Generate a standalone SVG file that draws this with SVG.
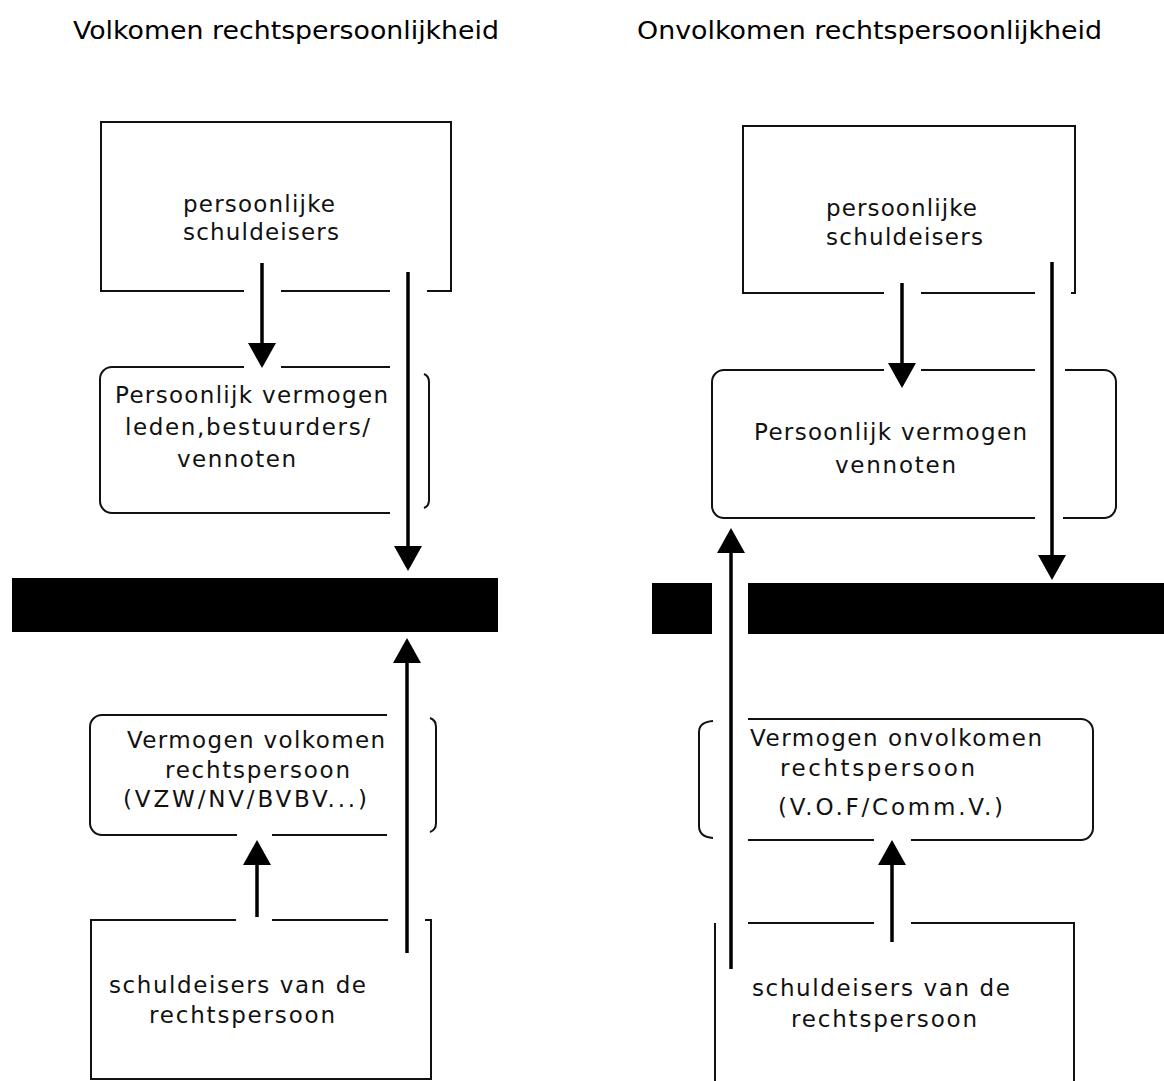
<svg xmlns="http://www.w3.org/2000/svg" width="1164" height="1081" viewBox="0 0 1164 1081">
<style>
.bg{fill:#ffffff}
.box{fill:none;stroke:#111;stroke-width:2}
.bar{fill:#000}
.arr{stroke:#000;stroke-width:3.5;fill:none}
.t{font-family:"DejaVu Sans","Liberation Sans",sans-serif;font-size:23px;fill:#111}
.title{font-family:"DejaVu Sans","Liberation Sans",sans-serif;font-size:25px;fill:#000}
</style>
<defs>
<marker id="ah" viewBox="0 0 25 28" markerWidth="25" markerHeight="28" refX="15" refY="14" orient="auto" markerUnits="userSpaceOnUse">
<path d="M0,0 L25,14 L0,28 z" fill="#000"/>
</marker>
</defs>
<rect class="bg" x="0" y="0" width="1164" height="1081"/>

<g id="titles">
<text class="title" x="73" y="39" textLength="426" lengthAdjust="spacingAndGlyphs">Volkomen rechtspersoonlijkheid</text>
<text class="title" x="637" y="39" textLength="465" lengthAdjust="spacingAndGlyphs">Onvolkomen rechtspersoonlijkheid</text>
</g>

<!-- Left column -->
<g id="L_persoonlijke_schuldeisers">
<path class="box" d="M244,291 H101 V122 H451 V291 H427 M281,291 H390"/>
<text class="t" x="183" y="212" textLength="152" lengthAdjust="spacing">persoonlijke</text>
<text class="t" x="183" y="240" textLength="156" lengthAdjust="spacing">schuldeisers</text>
</g>

<g id="L_persoonlijk_vermogen">
<path class="box" d="M244,367 H112 A12,12 0 0 0 100,379 V501 A12,12 0 0 0 112,513 H390 M281,367 H390 M424,374 Q429,376 429,382 V500 Q429,506 424,508"/>
<text class="t" x="115" y="403" textLength="273" lengthAdjust="spacing">Persoonlijk vermogen</text>
<text class="t" x="125" y="435" textLength="245" lengthAdjust="spacing">leden,bestuurders/</text>
<text class="t" x="177" y="467" textLength="119" lengthAdjust="spacing">vennoten</text>
</g>

<g id="L_bar">
<rect class="bar" x="12" y="578" width="486" height="54"/>
</g>

<g id="L_vermogen_volkomen">
<path class="box" d="M387,715 H102 A12,12 0 0 0 90,727 V823 A12,12 0 0 0 102,835 H237 M272,835 H387 M430,718 Q436,720 436,727 V823 Q436,830 430,832"/>
<text class="t" x="127" y="748" textLength="258" lengthAdjust="spacing">Vermogen volkomen</text>
<text class="t" x="165" y="778" textLength="185" lengthAdjust="spacing">rechtspersoon</text>
<text class="t" x="123" y="807" textLength="244" lengthAdjust="spacing">(VZW/NV/BVBV...)</text>
</g>

<g id="L_schuldeisers_rp">
<path class="box" d="M236,920 H91 V1079 H431 V920 H425 M272,920 H388"/>
<text class="t" x="109" y="993" textLength="257" lengthAdjust="spacing">schuldeisers van de</text>
<text class="t" x="149" y="1023" textLength="186" lengthAdjust="spacing">rechtspersoon</text>
</g>

<!-- Right column -->
<g id="R_persoonlijke_schuldeisers">
<path class="box" d="M884,293 H743 V126 H1075 V293 H1071 M921,293 H1035"/>
<text class="t" x="826" y="216" textLength="151" lengthAdjust="spacing">persoonlijke</text>
<text class="t" x="826" y="245" textLength="157" lengthAdjust="spacing">schuldeisers</text>
</g>

<g id="R_persoonlijk_vermogen">
<path class="box" d="M884,370 H724 A12,12 0 0 0 712,382 V506 A12,12 0 0 0 724,518 H1035 M921,370 H1035 M1065,370 H1104 A12,12 0 0 1 1116,382 V506 A12,12 0 0 1 1104,518 H1063"/>
<text class="t" x="754" y="440" textLength="273" lengthAdjust="spacing">Persoonlijk vermogen</text>
<text class="t" x="835" y="473" textLength="121" lengthAdjust="spacing">vennoten</text>
</g>

<g id="R_bar">
<rect class="bar" x="652" y="583" width="60" height="51"/>
<rect class="bar" x="748" y="583" width="416" height="51"/>
</g>

<g id="R_vermogen_onvolkomen">
<path class="box" d="M713,721 Q699,722 699,732 V826 Q699,837 713,838 M748,719 H1081 A12,12 0 0 1 1093,731 V828 A12,12 0 0 1 1081,840 H911 M874,840 H748"/>
<text class="t" x="750" y="746" textLength="292" lengthAdjust="spacing">Vermogen onvolkomen</text>
<text class="t" x="780" y="776" textLength="195" lengthAdjust="spacing">rechtspersoon</text>
<text class="t" x="778" y="815" textLength="225" lengthAdjust="spacing">(V.O.F/Comm.V.)</text>
</g>

<g id="R_schuldeisers_rp">
<path class="box" d="M715,923 V1081 M748,923 H874 M911,923 H1074 V1081"/>
<text class="t" x="752" y="996" textLength="258" lengthAdjust="spacing">schuldeisers van de</text>
<text class="t" x="791" y="1027" textLength="186" lengthAdjust="spacing">rechtspersoon</text>
</g>

<g id="connectors">
<line class="arr" x1="262" y1="263" x2="262" y2="358" marker-end="url(#ah)"/>
<line class="arr" x1="408" y1="272" x2="408" y2="561" marker-end="url(#ah)"/>
<line class="arr" x1="407" y1="953" x2="407" y2="648" marker-end="url(#ah)"/>
<line class="arr" x1="257" y1="917" x2="257" y2="850" marker-end="url(#ah)"/>
<line class="arr" x1="902" y1="283" x2="902" y2="378" marker-end="url(#ah)"/>
<line class="arr" x1="1052" y1="262" x2="1052" y2="570" marker-end="url(#ah)"/>
<line class="arr" x1="731" y1="969" x2="731" y2="538" marker-end="url(#ah)"/>
<line class="arr" x1="892" y1="942" x2="892" y2="850" marker-end="url(#ah)"/>
</g>
</svg>
